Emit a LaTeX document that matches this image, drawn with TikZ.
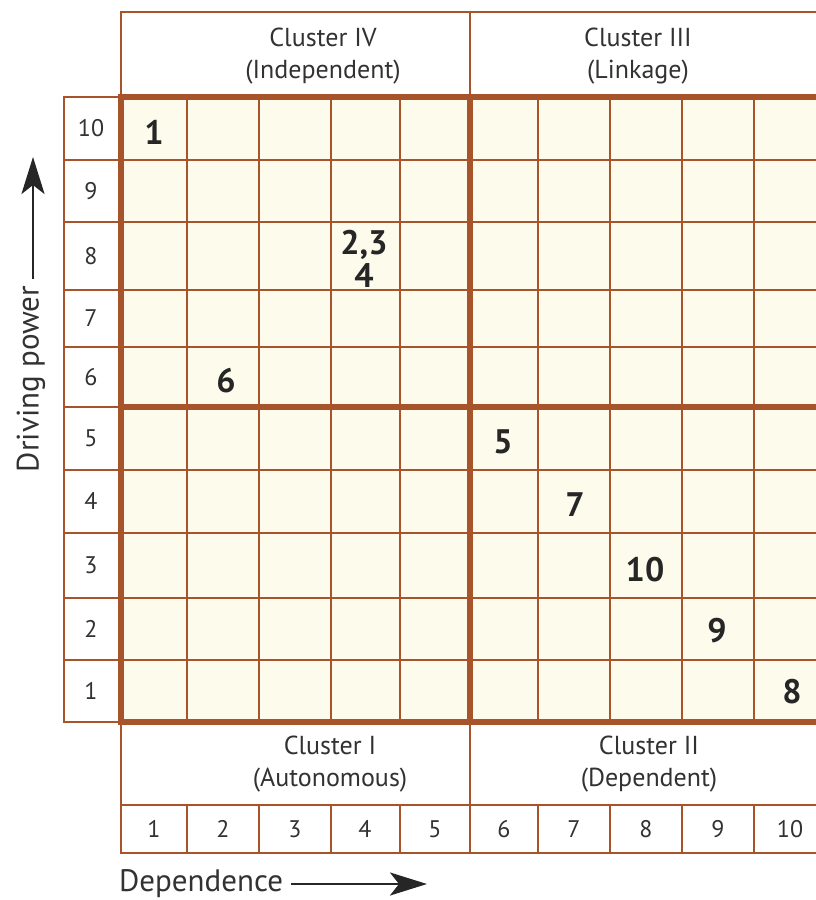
\documentclass[tikz,border=0pt]{standalone}
\usepackage{fontspec}
\setmainfont{PT Sans}
\usetikzlibrary{arrows.meta}
\definecolor{gridbrown}{RGB}{168,84,42}
\definecolor{cellfill}{RGB}{253,252,236}
\definecolor{labelgray}{RGB}{50,50,50}
\begin{document}
\begin{tikzpicture}[x=1pt,y=-1pt,
  thinline/.style={gridbrown,line width=2.9pt},
  thickline/.style={gridbrown,line width=5.2pt},
  lbl/.style={text=labelgray,font=\fontsize{24}{24}\selectfont,inner sep=0pt},
  hdr/.style={text=labelgray,font=\fontsize{26}{32}\selectfont,align=center,inner sep=0pt},
  val/.style={text=black!85,font=\fontsize{34}{33}\selectfont\bfseries,align=center,inner sep=0pt},
  axislbl/.style={text=labelgray,font=\fontsize{31}{31}\selectfont,inner sep=0pt},
  axarrow/.style={-{Stealth[length=37pt,width=23pt,inset=9pt]},line width=2.8pt,black!85}]
\useasboundingbox (0,0) rectangle (816,900);
\clip (0,0) rectangle (816,900);
\fill[white] (0,0) rectangle (816,900);
\fill[cellfill] (121,97) rectangle (830,722);
% thin grid lines inside the matrix
\foreach \x in {187,259,331,400,538,610,682,754} {
  \draw[thinline] (\x,97) -- (\x,722);
  \draw[thinline] (\x,805) -- (\x,853);
}
\foreach \y in {160,222,290,347,470,533,598,660} {
  \draw[thinline] (64,\y) -- (830,\y);
}
% row label column
\draw[thinline] (64,97) -- (121,97);
\draw[thinline] (64,407) -- (121,407);
\draw[thinline] (64,722) -- (121,722);
\draw[thinline] (64,95.6) -- (64,723.4);
% header boxes
\draw[thinline] (121,12) -- (830,12);
\draw[thinline] (121,10.6) -- (121,97);
\draw[thinline] (470,10.6) -- (470,97);
\draw[thinline] (121,805) -- (830,805);
\draw[thinline] (121,853) -- (830,853);
\draw[thinline] (121,722) -- (121,854.4);
\draw[thinline] (470,722) -- (470,854.4);
% thick lines
\draw[thickline] (121,97) -- (830,97);
\draw[thickline] (121,407) -- (830,407);
\draw[thickline] (121,722) -- (830,722);
\draw[thickline] (121,94.4) -- (121,724.6);
\draw[thickline] (470,94.4) -- (470,724.6);
% row labels
\foreach \v/\y in {10/128,9/191,8/256,7/318,6/377,5/438,4/501,3/565,2/629,1/691} {
  \node[lbl] (r\v) at (91,\y) {\v};
}
% column labels
\foreach \v/\x in {1/154,2/223,3/295,4/365,5/435,6/504,7/574,8/646,9/718,10/790} {
  \node[lbl] (c\v) at (\x,829) {\v};
}
% cluster headers
\node[hdr] (c4) at (323,56) {Cluster IV\\(Independent)};
\node[hdr] (c3) at (638,56) {Cluster III\\(Linkage)};
\node[hdr] (c1) at (330,764) {Cluster I\\(Autonomous)};
\node[hdr] (c2) at (649,764) {Cluster II\\(Dependent)};
% values
\node[val] (v1) at (154,132) {1};
\node[val] (v6) at (226,381) {6};
\node[val] (v234) at (364,259) {2,3\\4};
\node[val] (v5) at (503,442) {5};
\node[val] (v7) at (575,505) {7};
\node[val] (v10) at (645,570) {10};
\node[val] (v9) at (717,631) {9};
\node[val] (v8) at (792,692) {8};
% axes
\node[axislbl,rotate=90] (dp) at (31,379) {Driving power};
\coordinate (dptip) at (33,157);
\draw[axarrow] ([yshift=7pt]dp.east -| dptip) -- (dptip);
\node[axislbl,anchor=west] (dep) at (119,884) {Dependence};
\coordinate (deptip) at (427,884);
\draw[axarrow] ([xshift=8pt]dep.east |- deptip) -- (deptip);
\end{tikzpicture}
\end{document}
